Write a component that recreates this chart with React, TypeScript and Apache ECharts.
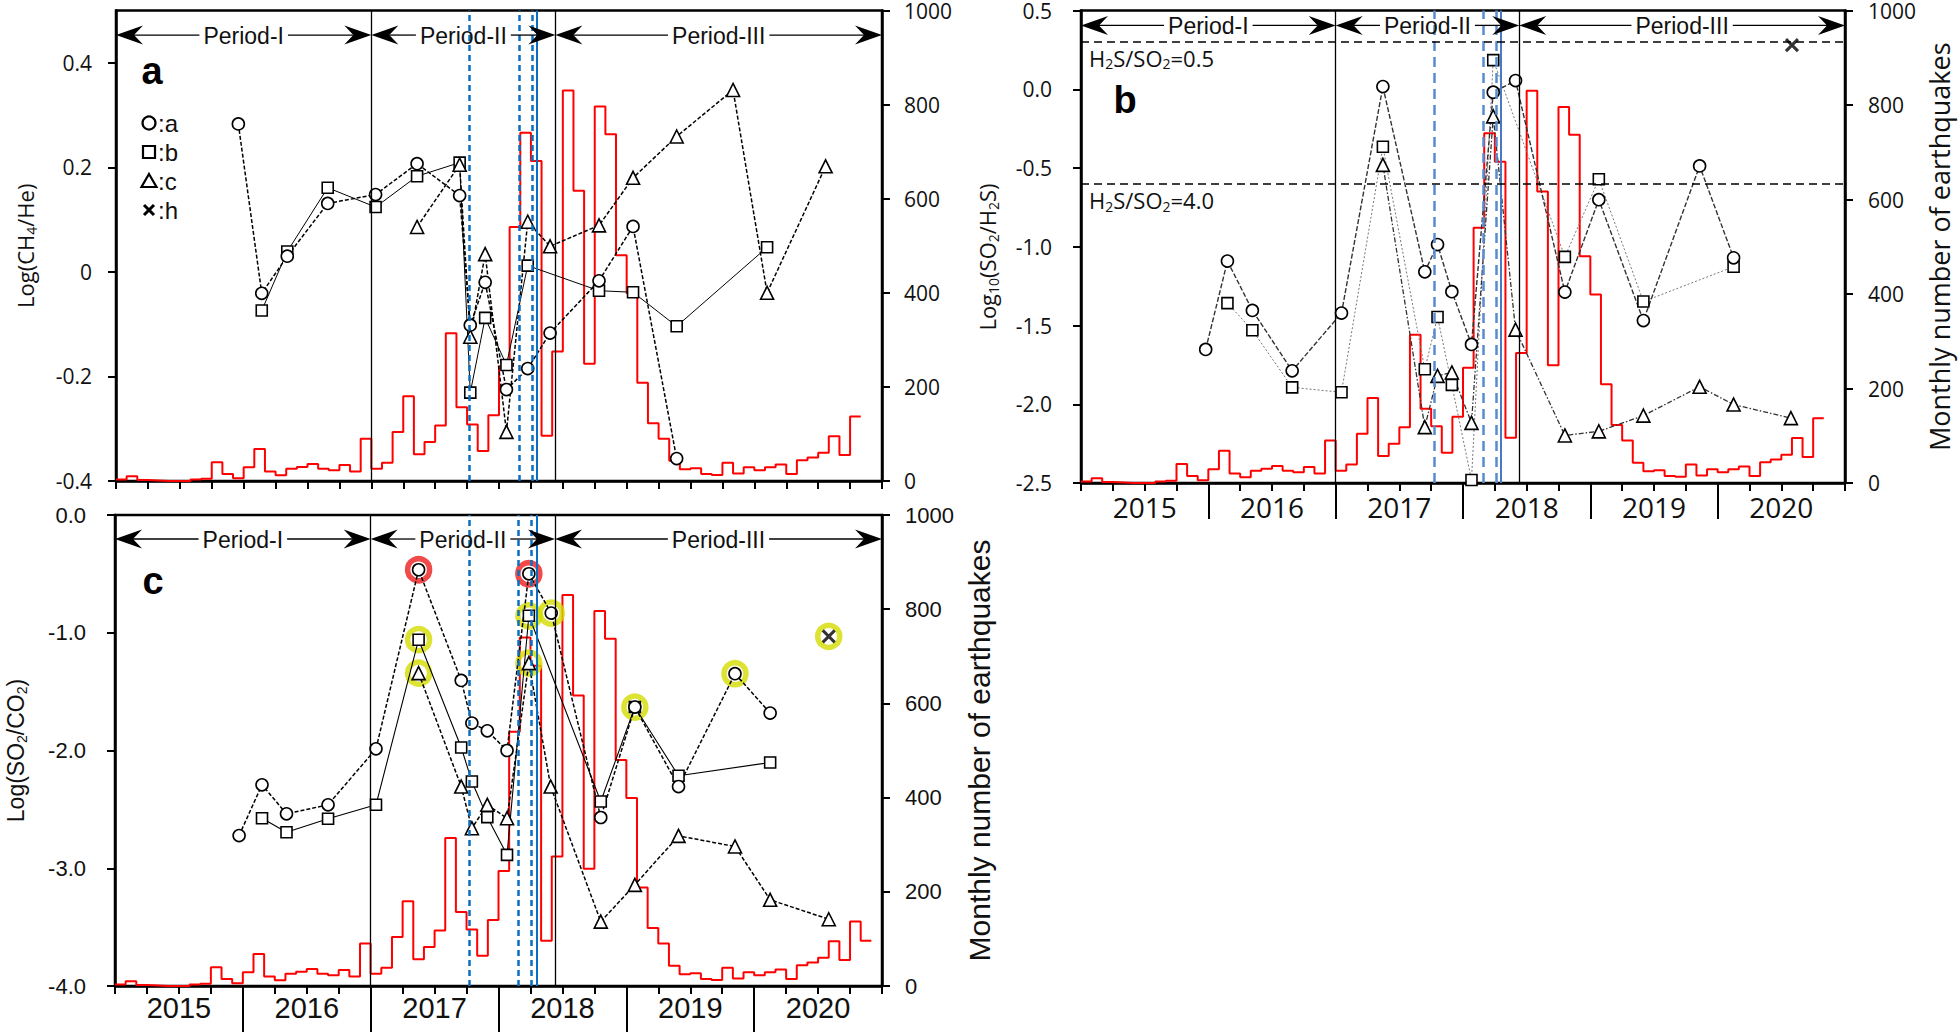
import React, { useEffect, useRef } from 'react';
import * as echarts from 'echarts';

// ---------- data ----------
const years = ['2015', '2016', '2017', '2018', '2019', '2020'];
const yearLabelMonths = [6, 18, 30, 42, 54, 66];
const yearBoundaryMonths = [12, 24, 36, 48, 60];

// monthly number of earthquakes, Jan 2015 onward (month index 0 = Jan 2015)
const quakeCounts = [
  3, 10, 2, 1, 0, 0, 0, 3, 5, 40, 15, 6,
  29, 68, 20, 12, 26, 30, 36, 26, 23, 34, 20, 90,
  26, 39, 104, 180, 57, 83, 118, 314, 157, 120, 64, 140,
  244, 540, 740, 680, 96, 275, 830, 617, 249, 796, 737, 480,
  399, 209, 123, 90, 43, 25, 27, 15, 13, 39, 16, 29,
  23, 29, 35, 15, 44, 50, 60, 95, 55, 137, 96,
];
const quakeMonthsAB = 70; // panels a and b stop one month earlier than c

const periodNames = ['Period-I', 'Period-II', 'Period-III'];
const periodBounds = [0, 24, 41.3, 72];
const blackLines = [24, 41.3];
const blueDashedLines = [33.25, 37.9, 39.1];
const blueSolidLines = [39.55];

// panel a: Log(CH4/He)
const ch4_a = [[11.5, 0.283], [13.7, -0.041], [16.1, 0.03], [19.9, 0.131], [24.4, 0.148], [28.3, 0.207], [32.3, 0.146], [33.3, -0.102], [34.7, -0.02], [36.7, -0.225], [38.7, -0.185], [40.8, -0.117], [45.4, -0.017], [48.6, 0.087], [52.7, -0.357]];
const ch4_b = [[13.7, -0.074], [16.1, 0.039], [19.9, 0.161], [24.4, 0.124], [28.3, 0.183], [32.3, 0.209], [33.3, -0.231], [34.7, -0.088], [36.7, -0.178], [38.7, 0.012], [45.4, -0.036], [48.6, -0.039], [52.7, -0.104], [61.2, 0.047]];
const ch4_c = [[28.3, 0.086], [32.3, 0.205], [33.3, -0.124], [34.7, 0.034], [36.7, -0.306], [38.7, 0.096], [40.8, 0.049], [45.4, 0.089], [48.6, 0.18], [52.7, 0.259], [58.0, 0.348], [61.2, -0.04], [66.7, 0.202]];

// panel b: Log10(SO2/H2S)
const so2h2s_a = [[11.75, -1.652], [13.8, -1.091], [16.15, -1.404], [19.9, -1.788], [24.55, -1.421], [28.45, 0.017], [32.4, -1.159], [33.6, -0.986], [34.95, -1.285], [36.8, -1.62], [38.85, -0.019], [40.95, 0.055], [45.6, -1.288], [48.8, -0.701], [53.0, -1.469], [58.3, -0.487], [61.5, -1.07]];
const so2h2s_b = [[13.8, -1.358], [16.15, -1.53], [19.9, -1.893], [24.55, -1.924], [28.45, -0.365], [32.4, -1.778], [33.6, -1.446], [34.95, -1.877], [36.8, -2.481], [38.85, 0.185], [45.6, -1.064], [48.8, -0.571], [53.0, -1.348], [61.5, -1.127]];
const so2h2s_c = [[28.45, -0.48], [32.4, -2.145], [33.6, -1.82], [34.95, -1.798], [36.8, -2.118], [38.85, -0.172], [40.95, -1.526], [45.6, -2.198], [48.8, -2.172], [53.0, -2.072], [58.3, -1.889], [61.5, -2.002], [66.9, -2.088]];
const so2h2s_h = [[67.0, 0.28]];
const h2sRatioLines = [0.301, -0.602]; // H2S/SO2 = 0.5 and 4.0
const h2sRatioLabels = ['H{s|2}S/SO{s|2}=0.5', 'H{s|2}S/SO{s|2}=4.0'];

// panel c: Log(SO2/CO2)
const so2co2_a = [[11.65, -2.722], [13.8, -2.291], [16.1, -2.538], [20.0, -2.461], [24.5, -1.986], [28.5, -0.465], [32.5, -1.405], [33.5, -1.767], [34.95, -1.833], [36.8, -2.0], [38.85, -0.499], [40.95, -0.833], [45.6, -2.569], [48.8, -1.631], [52.9, -2.306], [58.2, -1.348], [61.5, -1.682]];
const so2co2_b = [[13.8, -2.575], [16.1, -2.694], [20.0, -2.58], [24.5, -2.461], [28.5, -1.059], [32.5, -1.974], [33.5, -2.263], [34.95, -2.566], [36.8, -2.886], [38.85, -0.856], [45.6, -2.433], [48.8, -1.631], [52.9, -2.215], [61.5, -2.102]];
const so2co2_c = [[28.5, -1.343], [32.5, -2.306], [33.5, -2.66], [34.95, -2.461], [36.8, -2.575], [38.85, -1.258], [40.9, -2.306], [45.6, -3.453], [48.8, -3.141], [52.9, -2.725], [58.2, -2.815], [61.5, -3.268], [67.0, -3.433]];
const so2co2_h = [[67.0, -1.031]];
const redRings = [[28.5, -0.465], [38.85, -0.499]];
const yellowRings = [[28.5, -1.059], [28.5, -1.343], [38.85, -0.856], [38.85, -1.258], [40.95, -0.833], [48.8, -1.631], [58.2, -1.348], [67.0, -1.031]];

const legendLabels = [':a', ':b', ':c', ':h'];
const panelLetters = ['a', 'b', 'c'];
const panelBLeftName = 'Log{s|10}(SO{s|2}/H{s|2}S)';

// ---------- style ----------
const OS = "'Open Sans', 'Noto Sans', sans-serif";
const LS = "'Liberation Sans', Arial, sans-serif";
const INK = '#111';
const CROSS = 'path://M0,0L10,10M10,0L0,10';

function stepData(counts: number[]) {
  const d: number[][] = counts.map((v, i) => [i, v]);
  d.push([counts.length, counts[counts.length - 1]]);
  return d;
}

function xQuarterAxis(gridIndex: number, label: any) {
  return {
    type: 'value', gridIndex, min: 0, max: 72, interval: 3, position: 'bottom',
    axisLine: { show: true, onZero: false, lineStyle: { color: '#000', width: 2.5 } },
    axisTick: { show: true, length: 8, lineStyle: { color: '#000', width: 2 } },
    splitLine: { show: false },
    axisLabel: label
      ? {
          show: true, customValues: yearLabelMonths, ...label, color: INK,
          formatter: (v: number) => ((v - 6) % 12 === 0 ? years[(v - 6) / 12] : ''),
        }
      : { show: false },
  };
}
function xYearAxis(gridIndex: number, len: number) {
  return {
    type: 'value', gridIndex, min: 0, max: 72, interval: 12, position: 'bottom',
    axisLine: { show: false, onZero: false },
    axisTick: { show: true, customValues: yearBoundaryMonths, length: len, lineStyle: { color: '#000', width: 2 } },
    axisLabel: { show: false }, splitLine: { show: false },
  };
}
function yAxisBase(gridIndex: number, position: string, min: number, max: number, interval: number, label: any) {
  return {
    type: 'value', gridIndex, position, min, max, interval,
    axisLine: { show: true, onZero: false, lineStyle: { color: '#000', width: 2.5 } },
    axisTick: { show: true, length: 8, lineStyle: { color: '#000', width: 2 } },
    splitLine: { show: false },
    axisLabel: { color: INK, formatter: (v: number) => String(v), ...label },
  };
}
const subRich = (fontFamily: string, fontSize: number) => ({ s: { fontFamily, fontSize, lineHeight: fontSize, verticalAlign: 'bottom', color: INK } });

function gas(data: number[][], xi: number, yi: number, symbol: string, size: number, line: any) {
  return {
    type: 'line', data, xAxisIndex: xi, yAxisIndex: yi, symbol, symbolSize: size, showSymbol: true,
    lineStyle: { color: '#000', ...line }, itemStyle: { color: '#fff', borderColor: '#000', borderWidth: 1.6 },
    z: 4, emphasis: { disabled: true }, silent: true,
  };
}
function cross(data: number[][], xi: number, yi: number) {
  return {
    type: 'scatter', data, xAxisIndex: xi, yAxisIndex: yi, symbol: CROSS, symbolSize: 12,
    itemStyle: { color: 'none', borderColor: '#000', borderWidth: 3 }, z: 5, silent: true,
  };
}
function rings(data: number[][], color: string) {
  return {
    type: 'scatter', data, xAxisIndex: 3, yAxisIndex: 4, symbol: 'circle', symbolSize: 22,
    itemStyle: { color: 'rgba(0,0,0,0)', borderColor: color, borderWidth: 5.5 }, z: 3, silent: true,
  };
}
function verticals(blue: string, dash: number[], solidBlue: string) {
  return {
    silent: true, symbol: ['none', 'none'], label: { show: false }, emphasis: { disabled: true },
    data: [
      ...blackLines.map((x) => ({ xAxis: x, lineStyle: { color: '#000', width: 1.3, type: 'solid' } })),
      ...blueDashedLines.map((x) => ({ xAxis: x, lineStyle: { color: blue, width: 2.5, type: dash } })),
      ...blueSolidLines.map((x) => ({ xAxis: x, lineStyle: { color: solidBlue, width: 2, type: 'solid' } })),
    ],
  };
}
function quakes(counts: number[], xi: number, yi: number, ml: any) {
  return {
    type: 'line', data: stepData(counts), xAxisIndex: xi, yAxisIndex: yi, step: 'end', symbol: 'none',
    lineStyle: { color: '#ff0000', width: 2 }, z: 2, silent: true, markLine: ml,
  };
}

function buildOption() {
  const dashA = { width: 1.5, type: [4, 2] };
  const thin = { width: 1, type: 'solid' };
  return {
    animation: false,
    grid: [
      { left: 116, top: 8, width: 766, height: 473, show: true, borderColor: '#000', borderWidth: 2.5 },
      { left: 1081, top: 8, width: 764, height: 475, show: true, borderColor: '#000', borderWidth: 2.5 },
      { left: 115, top: 515, width: 767, height: 471, show: true, borderColor: '#000', borderWidth: 2.5 },
    ],
    xAxis: [
      xQuarterAxis(0, null),
      xQuarterAxis(1, { fontFamily: OS, fontSize: 28, margin: 10 }),
      xYearAxis(1, 36),
      xQuarterAxis(2, { fontFamily: LS, fontSize: 29, margin: 7 }),
      xYearAxis(2, 46),
    ],
    yAxis: [
      {
        ...yAxisBase(0, 'left', -0.4, 0.5, 0.2, {
          fontFamily: OS, fontSize: 21, margin: 24, showMaxLabel: false,
          formatter: (v: number) => (Math.abs(v) < 1e-9 ? '0' : v.toFixed(1)),
        }),
        name: 'Log(CH{s|4}/He)', nameLocation: 'middle', nameGap: 78,
        nameTextStyle: { fontFamily: OS, fontSize: 22, lineHeight: 26, color: INK, rich: subRich(OS, 14) },
      },
      yAxisBase(0, 'right', 0, 1000, 200, { fontFamily: OS, fontSize: 21, margin: 22 }),
      yAxisBase(1, 'left', -2.5, 0.5, 0.5, {
        fontFamily: OS, fontSize: 21, margin: 29,
        formatter: (v: number) => (Math.abs(v) < 1e-9 ? '0.0' : v.toFixed(1)),
      }),
      {
        ...yAxisBase(1, 'right', 0, 1000, 200, { fontFamily: OS, fontSize: 21, margin: 23 }),
        name: 'Monthly number of earthquakes', nameLocation: 'middle', nameGap: 81,
        nameTextStyle: { fontFamily: OS, fontSize: 27, color: INK },
      },
      {
        ...yAxisBase(2, 'left', -4, 0, 1, {
          fontFamily: LS, fontSize: 22, margin: 29,
          formatter: (v: number) => (Math.abs(v) < 1e-9 ? '0.0' : v.toFixed(1)),
        }),
        name: 'Log(SO{s|2}/CO{s|2})', nameLocation: 'middle', nameGap: 86,
        nameTextStyle: { fontFamily: LS, fontSize: 23, lineHeight: 27, color: INK, rich: subRich(LS, 14) },
      },
      {
        ...yAxisBase(2, 'right', 0, 1000, 200, { fontFamily: LS, fontSize: 22, margin: 23 }),
        name: 'Monthly number of earthquakes', nameLocation: 'middle', nameGap: 82,
        nameTextStyle: { fontFamily: LS, fontSize: 30, color: INK },
      },
    ],
    series: [
      // panel a
      quakes(quakeCounts.slice(0, quakeMonthsAB), 0, 1, verticals('#0a6fc2', [6, 4], '#0a6fc2')),
      gas(ch4_b, 0, 0, 'rect', 11, thin),
      gas(ch4_a, 0, 0, 'circle', 12, dashA),
      gas(ch4_c, 0, 0, 'triangle', 13, dashA),
      // panel b
      quakes(quakeCounts.slice(0, quakeMonthsAB), 1, 3, verticals('#5a8bd0', [10, 6], '#4a78c4')),
      gas(so2h2s_b, 1, 2, 'rect', 11, { width: 1, type: [2, 2], color: '#777' }),
      {
        ...gas(so2h2s_a, 1, 2, 'circle', 12, { width: 1.4, type: [5, 2], color: '#333' }),
        markLine: {
          silent: true, symbol: ['none', 'none'], label: { show: false }, emphasis: { disabled: true },
          data: h2sRatioLines.map((v) => ({ yAxis: v, lineStyle: { color: '#000', width: 1.5, type: [8, 5] } })),
        },
      },
      gas(so2h2s_c, 1, 2, 'triangle', 13, { width: 1.3, type: [5, 2, 1.5, 2], color: '#333' }),
      cross(so2h2s_h, 1, 2),
      // panel c
      quakes(quakeCounts, 3, 5, verticals('#0a6fc2', [6, 4], '#0a6fc2')),
      rings(redRings, '#ee1d1d'),
      rings(yellowRings, '#d5dc00'),
      gas(so2co2_b, 3, 4, 'rect', 11, { width: 1.1, type: 'solid' }),
      gas(so2co2_a, 3, 4, 'circle', 12, dashA),
      gas(so2co2_c, 3, 4, 'triangle', 13, dashA),
      cross(so2co2_h, 3, 4),
    ],
  };
}

let measureCtx: CanvasRenderingContext2D | null = null;
function textWidth(text: string, font: string) {
  if (!measureCtx) measureCtx = document.createElement('canvas').getContext('2d');
  measureCtx!.font = font;
  return measureCtx!.measureText(text).width;
}

function buildGraphics(chart: any) {
  const g: any[] = [];
  const px = (xi: number, yi: number, x: number, y: number) => chart.convertToPixel({ xAxisIndex: xi, yAxisIndex: yi }, [x, y]);
  const head = (tx: number, y: number, dir: number) => [[tx, y], [tx - dir * 27, y - 9.5], [tx - dir * 18, y], [tx - dir * 27, y + 9.5]];
  const periodFont = `23px ${LS}`;
  const arrowPanels = [
    { xi: 0, yi: 0, level: 0.453 },
    { xi: 1, yi: 2, level: 0.4055 },
    { xi: 3, yi: 4, level: -0.204 },
  ];
  arrowPanels.forEach((p) => {
    for (let k = 0; k < periodNames.length; k++) {
      const [x0, y] = px(p.xi, p.yi, periodBounds[k], p.level);
      const [x1] = px(p.xi, p.yi, periodBounds[k + 1], p.level);
      const cx = (x0 + x1) / 2;
      const half = textWidth(periodNames[k], periodFont) / 2 + 4;
      g.push({ type: 'line', silent: true, z: 50, shape: { x1: x0 + 18, y1: y, x2: cx - half, y2: y }, style: { stroke: '#000', lineWidth: 1.3 } });
      g.push({ type: 'line', silent: true, z: 50, shape: { x1: cx + half, y1: y, x2: x1 - 18, y2: y }, style: { stroke: '#000', lineWidth: 1.3 } });
      g.push({ type: 'polygon', silent: true, z: 51, shape: { points: head(x0, y, -1) }, style: { fill: '#000' } });
      g.push({ type: 'polygon', silent: true, z: 51, shape: { points: head(x1, y, 1) }, style: { fill: '#000' } });
      g.push({
        type: 'text', silent: true, z: 52, x: cx, y: y + 1,
        style: { text: periodNames[k], font: periodFont, fill: INK, align: 'center', verticalAlign: 'middle', textAlign: 'center', textVerticalAlign: 'middle' },
      });
    }
  });

  // panel b left axis title (rotated)
  g.push({
    type: 'text', silent: true, z: 60, x: 987, y: 257, rotation: Math.PI / 2,
    style: {
      text: panelBLeftName, fontFamily: OS, fontSize: 22, lineHeight: 26, fill: INK,
      align: 'center', verticalAlign: 'middle', textAlign: 'center', textVerticalAlign: 'middle',
      rich: { s: { fontFamily: OS, fontSize: 14, lineHeight: 14, verticalAlign: 'bottom', fill: INK } },
    },
  });

  // panel letters
  const letterPos = [[152, 71], [1125, 100], [153, 581]];
  panelLetters.forEach((t, i) => {
    g.push({
      type: 'text', silent: true, z: 60, x: letterPos[i][0], y: letterPos[i][1],
      style: { text: t, font: `bold 38px ${LS}`, fill: '#000', align: 'center', verticalAlign: 'middle', textAlign: 'center', textVerticalAlign: 'middle' },
    });
  });

  // legend (panel a)
  const rows = [123, 152, 181, 210];
  const mx = 149;
  const stroke = { fill: '#fff', stroke: '#000', lineWidth: 2.2 };
  g.push({ type: 'circle', silent: true, z: 60, shape: { cx: mx, cy: rows[0], r: 6.5 }, style: stroke });
  g.push({ type: 'rect', silent: true, z: 60, shape: { x: mx - 6, y: rows[1] - 6, width: 12, height: 12 }, style: stroke });
  g.push({ type: 'polygon', silent: true, z: 60, shape: { points: [[mx, rows[2] - 7], [mx + 7.5, rows[2] + 6], [mx - 7.5, rows[2] + 6]] }, style: stroke });
  g.push({ type: 'line', silent: true, z: 60, shape: { x1: mx - 5, y1: rows[3] - 5, x2: mx + 5, y2: rows[3] + 5 }, style: { stroke: '#000', lineWidth: 3 } });
  g.push({ type: 'line', silent: true, z: 60, shape: { x1: mx + 5, y1: rows[3] - 5, x2: mx - 5, y2: rows[3] + 5 }, style: { stroke: '#000', lineWidth: 3 } });
  legendLabels.forEach((t, i) => {
    g.push({
      type: 'text', silent: true, z: 60, x: 158, y: rows[i],
      style: { text: t, font: `24px ${LS}`, fill: INK, align: 'left', verticalAlign: 'middle', textAlign: 'left', textVerticalAlign: 'middle' },
    });
  });

  // H2S/SO2 ratio labels (panel b)
  h2sRatioLines.forEach((v, i) => {
    const [, y] = px(1, 2, 0, v);
    g.push({
      type: 'text', silent: true, z: 60, x: 1089, y: y + 16,
      style: {
        text: h2sRatioLabels[i], fontFamily: OS, fontSize: 22, lineHeight: 26, fill: INK,
        align: 'left', verticalAlign: 'middle', textAlign: 'left', textVerticalAlign: 'middle',
        rich: { s: { fontFamily: OS, fontSize: 14, lineHeight: 14, verticalAlign: 'bottom', fill: INK } },
      },
    });
  });
  return g;
}

export default function App() {
  const ref = useRef<HTMLDivElement>(null);
  useEffect(() => {
    const chart = echarts.init(ref.current!, null, { renderer: 'svg' });
    chart.setOption(buildOption() as any);
    chart.setOption({ graphic: { elements: buildGraphics(chart) } } as any);
    return () => chart.dispose();
  }, []);
  return <div ref={ref} style={{ position: 'fixed', left: 0, top: 0, width: 1959, height: 1032, background: '#fff' }} />;
}
